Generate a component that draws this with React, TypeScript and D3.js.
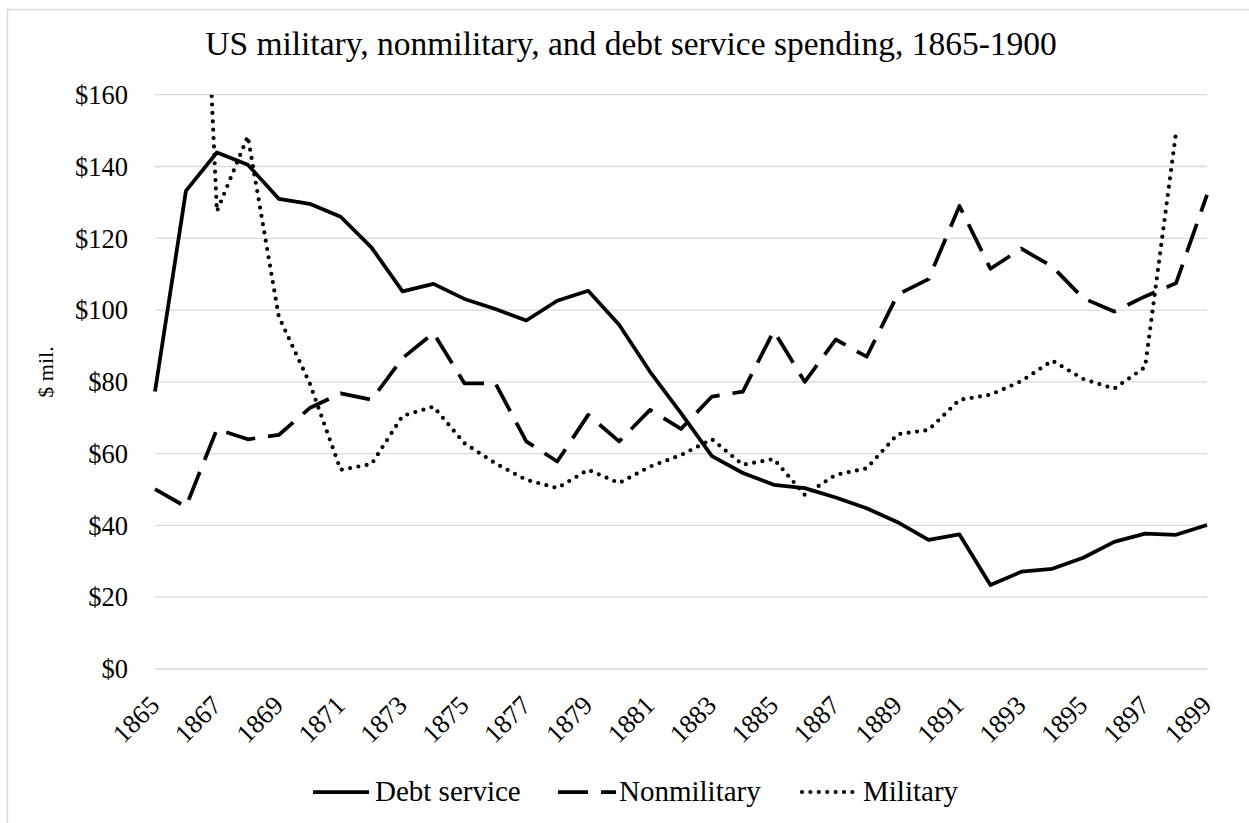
import * as d3 from 'd3'

const years = [
    '1865', '1866', '1867', '1868', '1869', '1870', '1871', '1872', '1873', '1874',
    '1875', '1876', '1877', '1878', '1879', '1880', '1881', '1882', '1883', '1884',
    '1885', '1886', '1887', '1888', '1889', '1890', '1891', '1892', '1893', '1894',
    '1895', '1896', '1897', '1898', '1899',
]

const debtService = [
    77.3, 133.2, 143.9, 140.5, 131, 129.6, 126, 117.4, 105.2, 107.3,
    103.1, 100.3, 97.1, 102.6, 105.4, 95.9, 82.8, 71.3, 59.3, 54.6,
    51.3, 50.4, 47.8, 44.8, 40.9, 36.0, 37.5, 23.4, 27.1, 27.9,
    31, 35.4, 37.7, 37.4, 40.1,
]

const nonmilitary = [
    50.1, 45.2, 66.8, 64.0, 65.2, 72.7, 76.8, 75.0, 86.6, 93.6,
    79.6, 79.6, 63.4, 57.8, 70.8, 63.4, 72.2, 66.9, 75.9, 77.3,
    94.2, 80, 91.8, 87, 104.3, 108.6, 129, 111.5, 117.1, 112.1,
    103.3, 99.6, 103.8, 107.5, 132.1,
]

// 1865 and 1866 are far above the axis max and get clipped
const military: (number | null)[] = [
    1154, 318, 127.5, 148.4, 98.2, 79.6, 55.5, 57.1, 70.5, 73.1,
    62.9, 57.3, 52.7, 50.4, 55.5, 51.8, 56.4, 59.6, 64.0, 56.9,
    58.5, 48.5, 54.1, 55.9, 65.4, 66.6, 75, 76.4, 80.2, 85.9,
    80.8, 78.1, 84.1, 149.5, null,
]

const yTicks = [0, 20, 40, 60, 80, 100, 120, 140, 160]
const xTickLabels = years.filter((_, i) => i % 2 === 0)

const series = [
    { name: 'Debt service', values: debtService as (number | null)[], dash: null, cap: 'butt', w: 3.75 },
    { name: 'Nonmilitary', values: nonmilitary as (number | null)[], dash: '30 13', cap: 'butt', w: 3.75 },
    { name: 'Military', values: military, dash: '0 8.4', cap: 'round', w: 4.2 },
]

const FONT = '"Liberation Serif", "Times New Roman", serif'

const App = () => {
    const left = 155
    const right = 1207
    const top = 94.7
    const bottom = 669

    const x = d3.scalePoint<string>().domain(years).range([left, right])
    const y = d3.scaleLinear().domain([0, 160]).range([bottom, top])

    const line = d3
        .line<number | null>()
        .defined(d => d !== null)
        .x((_, i) => x(years[i])!)
        .y(d => y(d as number))

    const legend = [
        { x1: 313, x2: 369, tx: 375 },
        { x1: 558, x2: 616, tx: 619 },
        { x1: 802, x2: 856, tx: 863 },
    ]

    return (
        <svg
            width={1249}
            height={823}
            style={{ position: 'absolute', left: 0, top: 0, background: '#fff', fontFamily: FONT }}
        >
            <defs>
                <clipPath id="plot-clip">
                    <rect x={left - 5} y={top} width={right - left + 10} height={bottom - top + 5} />
                </clipPath>
            </defs>
            <rect x={7.5} y={9.5} width={1300} height={900} fill="#fff" stroke="#d9d9d9" strokeWidth={1.5} />

            <text x={631} y={55} textAnchor="middle" fontSize={33.5} fill="#000">
                US military, nonmilitary, and debt service spending, 1865-1900
            </text>

            {yTicks.map(t => (
                <g key={t}>
                    <line x1={left} x2={right} y1={y(t)} y2={y(t)} stroke="#d9d9d9" strokeWidth={1.3} />
                    <text x={128} y={y(t)} dy="0.35em" textAnchor="end" fontSize={26.5} fill="#000">
                        {'$' + t}
                    </text>
                </g>
            ))}

            <text
                transform={`translate(53, 372) rotate(-90)`}
                textAnchor="middle"
                fontSize={22}
                fill="#000"
            >
                $ mil.
            </text>

            {xTickLabels.map(yr => (
                <text
                    key={yr}
                    transform={`translate(${x(yr)! + 6}, 707) rotate(-45)`}
                    textAnchor="end"
                    fontSize={26.5}
                    fill="#000"
                >
                    {yr}
                </text>
            ))}

            <g clipPath="url(#plot-clip)">
                {series.map(s => (
                    <path
                        key={s.name}
                        d={line(s.values) || ''}
                        fill="none"
                        stroke="#000"
                        strokeWidth={s.w}
                        strokeLinejoin="round"
                        strokeLinecap={s.cap as 'butt' | 'round'}
                        strokeDasharray={s.dash || undefined}
                    />
                ))}
            </g>

            {series.map((s, i) => (
                <g key={s.name}>
                    <line
                        x1={legend[i].x1}
                        x2={legend[i].x2}
                        y1={792}
                        y2={792}
                        stroke="#000"
                        strokeWidth={s.w}
                        strokeLinecap={s.cap as 'butt' | 'round'}
                        strokeDasharray={s.dash || undefined}
                    />
                    <text x={legend[i].tx} y={801} fontSize={29} fill="#000">
                        {s.name}
                    </text>
                </g>
            ))}
        </svg>
    )
}

export default App
